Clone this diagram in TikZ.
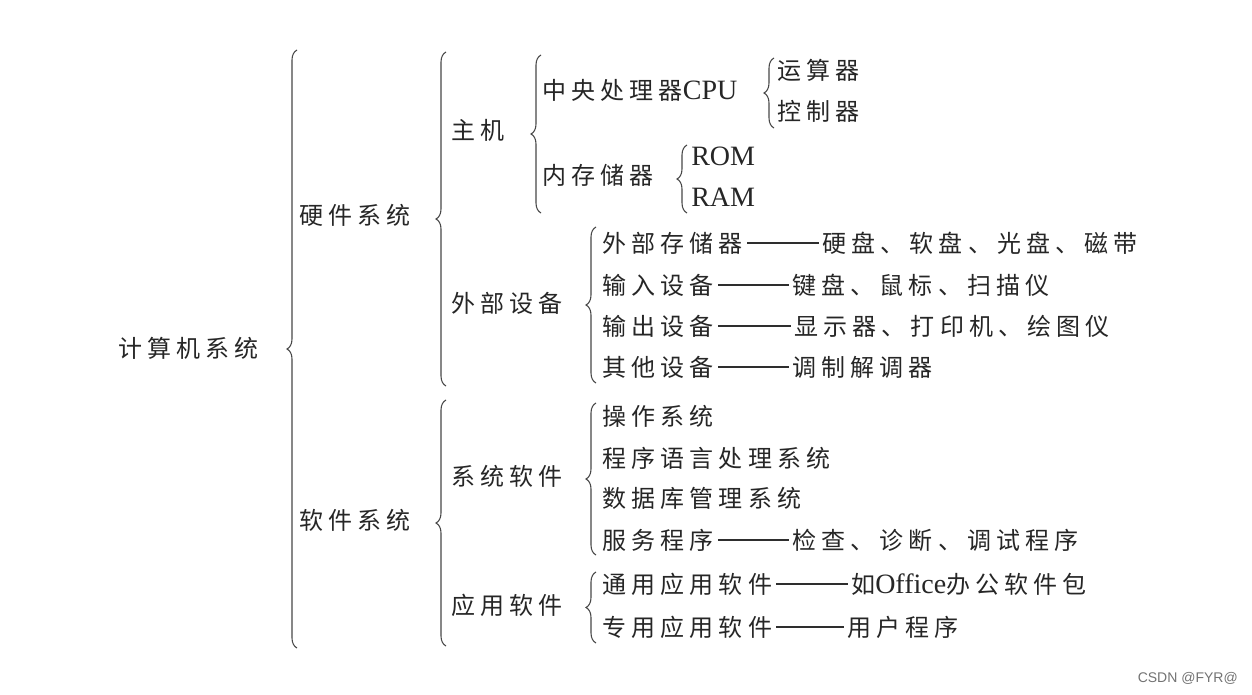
\documentclass[tikz,border=0pt]{standalone}
\usepackage{fontspec}
\setmainfont{Liberation Serif}
\newfontfamily\cjk[LetterSpace=21.5]{Noto Sans CJK SC}
\usetikzlibrary{decorations.pathreplacing,calc}
\newcommand{\latw}[1]{{\rmfamily\fontsize{21}{23}\selectfont #1}}
\begin{document}
\begin{tikzpicture}[x=0.75pt,y=-0.75pt,
 lbl/.style={anchor=west,inner sep=0pt,font=\fontsize{18}{20}\selectfont\cjk,text=black!85},
 brc/.style={draw=black!72,line width=0.8pt,decorate,decoration={brace,amplitude=7.5pt}},
 dashln/.style={draw=black!82,line width=0.9pt,shorten <=3pt,shorten >=2pt}]
\useasboundingbox[fill=white] (0,0) rectangle (1252,695);

% level 0-1
\node[lbl] (n0) at (118,348) {计算机系统};
\node[lbl] (hw) at (299,215) {硬件系统};
\node[lbl] (sw) at (299,520) {软件系统};
% level 2
\node[lbl] (zj) at (451,130) {主机};
\node[lbl] (wb) at (451,303) {外部设备};
\node[lbl] (xr) at (451,476) {系统软件};
\node[lbl] (yr) at (451,605) {应用软件};
% level 3
\node[lbl] (cpu) at (542,90) {中央处理器\latw{CPU}};
\node[lbl] (nc) at (542,175) {内存储器};
\node[lbl] (ys) at (777,70) {运算器};
\node[lbl] (kz) at (777,111) {控制器};
\node[lbl] (rom) at (691,156) {\latw{ROM}};
\node[lbl] (ram) at (691,197) {\latw{RAM}};

\node[lbl] (e1l) at (602,243) {外部存储器};
\node[lbl] (e1r) at (822,243) {硬盘、软盘、光盘、磁带};
\node[lbl] (e2l) at (602,285) {输入设备};
\node[lbl] (e2r) at (792,285) {键盘、鼠标、扫描仪};
\node[lbl] (e3l) at (602,326) {输出设备};
\node[lbl] (e3r) at (794,326) {显示器、打印机、绘图仪};
\node[lbl] (e4l) at (602,367) {其他设备};
\node[lbl] (e4r) at (792,367) {调制解调器};

\node[lbl] (s1) at (602,416) {操作系统};
\node[lbl] (s2) at (602,458) {程序语言处理系统};
\node[lbl] (s3) at (602,498) {数据库管理系统};
\node[lbl] (s4l) at (602,540) {服务程序};
\node[lbl] (s4r) at (792,540) {检查、诊断、调试程序};

\node[lbl] (a1l) at (602,584) {通用应用软件};
\node[lbl] (a1r) at (851,584) {如\latw{Office}办公软件包};
\node[lbl] (a2l) at (602,627) {专用应用软件};
\node[lbl] (a2r) at (847,627) {用户程序};

\node[anchor=east,inner sep=0pt,text=black!55,font=\fontspec{Liberation Sans}\fontsize{10.5}{12}\selectfont] (csdn) at (1238,678) {CSDN @FYR@};

% dashes
\foreach \a/\b in {e1l/e1r,e2l/e2r,e3l/e3r,e4l/e4r,s4l/s4r,a1l/a1r,a2l/a2r}
  \draw[dashln] (\a.east) -- (\b.west);

% braces (drawn bottom to top so the tip points left)
\coordinate (b1t) at (297,50);  \coordinate (b1b) at (297,648);
\coordinate (b2t) at (446,52);  \coordinate (b2b) at (446,386);
\coordinate (b3t) at (446,400); \coordinate (b3b) at (446,646);
\coordinate (b4t) at (541,55);  \coordinate (b4b) at (541,213);
\coordinate (b5t) at (774,58);  \coordinate (b5b) at (774,128);
\coordinate (b6t) at (687,145); \coordinate (b6b) at (687,213);
\coordinate (b7t) at (596,227); \coordinate (b7b) at (596,383);
\coordinate (b8t) at (596,403); \coordinate (b8b) at (596,555);
\coordinate (b9t) at (596,572); \coordinate (b9b) at (596,643);
\foreach \i in {1,...,9}
  \draw[brc] (b\i b) -- (b\i t);
\end{tikzpicture}
\end{document}
